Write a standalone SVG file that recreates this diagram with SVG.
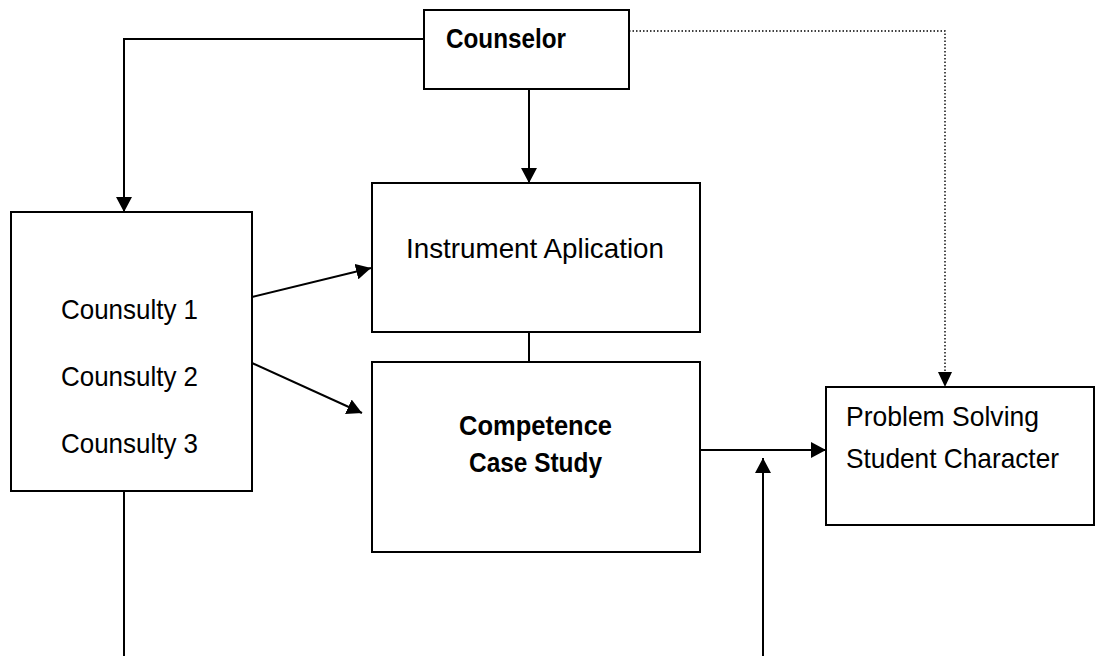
<svg xmlns="http://www.w3.org/2000/svg" width="1096" height="656" viewBox="0 0 1096 656">
  <style>
    .box { fill: #ffffff; stroke: #000000; stroke-width: 2; }
    .line { fill: none; stroke: #000000; stroke-width: 2; }
    .dot { fill: none; stroke: #000000; stroke-width: 1.4; stroke-dasharray: 1.5 2; }
    .txt { font-family: "Liberation Sans", Arial, sans-serif; font-size: 28px; fill: #000000; }
    .bold { font-family: "Liberation Sans Narrow", "Liberation Sans", Arial, sans-serif; font-size: 27px; font-weight: bold; fill: #000000; }
  </style>
  <defs>
    <marker id="arrow" markerUnits="userSpaceOnUse" markerWidth="16" markerHeight="16" refX="15" refY="8" orient="auto">
      <path d="M0,0 L15,8 L0,16 Z" fill="#000000"/>
    </marker>
  </defs>
  <rect width="1096" height="656" fill="#ffffff"/>

  <g id="connectors">
    <path class="line" d="M424,39 H124 V212" marker-end="url(#arrow)"/>
    <path class="line" d="M529,89 V183" marker-end="url(#arrow)"/>
    <path class="dot" d="M629,31 H945 V372"/>
    <path d="M938,372 L952,372 L945,387 Z" fill="#000000"/>
    <path class="line" d="M252,297 L371,268" marker-end="url(#arrow)"/>
    <path class="line" d="M252,363 L362,413" marker-end="url(#arrow)"/>
    <path class="line" d="M529,332 V362"/>
    <path class="line" d="M700,450 H826" marker-end="url(#arrow)"/>
    <path class="line" d="M763,656 V458" marker-end="url(#arrow)"/>
    <path class="line" d="M124,491 V656"/>
  </g>

  <g id="counselor">
    <rect class="box" x="424" y="10" width="205" height="79"/>
    <text class="bold" x="446" y="48" textLength="120" lengthAdjust="spacingAndGlyphs">Counselor</text>
  </g>

  <g id="counsulty">
    <rect class="box" x="11" y="212" width="241" height="279"/>
    <text class="txt" x="61" y="319" textLength="137" lengthAdjust="spacingAndGlyphs">Counsulty 1</text>
    <text class="txt" x="61" y="386" textLength="137" lengthAdjust="spacingAndGlyphs">Counsulty 2</text>
    <text class="txt" x="61" y="453" textLength="137" lengthAdjust="spacingAndGlyphs">Counsulty 3</text>
  </g>

  <g id="instrument">
    <rect class="box" x="372" y="183" width="328" height="149"/>
    <text class="txt" x="406" y="258" textLength="258" lengthAdjust="spacingAndGlyphs">Instrument Aplication</text>
  </g>

  <g id="competence">
    <rect class="box" x="372" y="362" width="328" height="190"/>
    <text class="bold" x="459" y="435" textLength="153" lengthAdjust="spacingAndGlyphs">Competence</text>
    <text class="bold" x="469" y="472" textLength="133" lengthAdjust="spacingAndGlyphs">Case Study</text>
  </g>

  <g id="problem">
    <rect class="box" x="826" y="387" width="268" height="138"/>
    <text class="txt" x="846" y="426" textLength="193" lengthAdjust="spacingAndGlyphs">Problem Solving</text>
    <text class="txt" x="846" y="468" textLength="213" lengthAdjust="spacingAndGlyphs">Student Character</text>
  </g>
</svg>
